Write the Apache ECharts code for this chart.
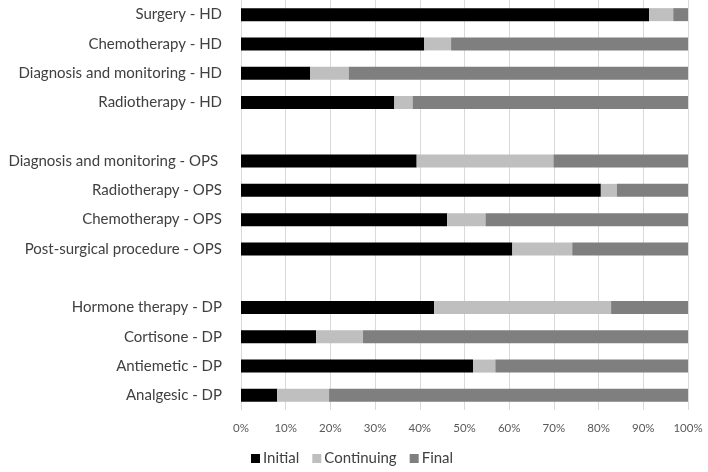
<!DOCTYPE html>
<html>
<head>
<meta charset="utf-8">
<script src="https://cdn.jsdelivr.net/npm/echarts@6/dist/echarts.min.js"></script>
<style>html,body{margin:0;padding:0;background:#fff}#c{width:708px;height:472px}</style>
</head>
<body>
<div id="c"></div>
<script>
var categories = [
  'Surgery - HD', 'Chemotherapy - HD', 'Diagnosis and monitoring - HD', 'Radiotherapy - HD',
  '',
  'Diagnosis and monitoring - OPS ', 'Radiotherapy - OPS', 'Chemotherapy - OPS', 'Post-surgical procedure - OPS',
  ' ',
  'Hormone therapy - DP', 'Cortisone - DP', 'Antiemetic - DP', 'Analgesic - DP'
];
var initialValues    = [91.3, 41.0, 15.5, 34.3, null, 39.3, 80.5, 46.1, 60.7, null, 43.2, 16.8, 51.9, 8.1];
var continuingValues = [5.4, 6.0, 8.6, 4.1, null, 30.6, 3.6, 8.6, 13.4, null, 39.6, 10.5, 5.0, 11.6];
var finalValues      = [3.3, 53.0, 75.9, 61.6, null, 30.1, 15.9, 45.3, 25.9, null, 17.2, 72.7, 43.1, 80.3];
var tickLabels = ['0%', '10%', '20%', '30%', '40%', '50%', '60%', '70%', '80%', '90%', '100%'];

var font = 'Lato, "Open Sans", sans-serif';
var chart = echarts.init(document.getElementById('c'), null, {renderer: 'canvas'});
function s(name, data, color) {
  return {name: name, type: 'bar', stack: 'all', data: data, barWidth: 13,
    itemStyle: {color: color}, emphasis: {disabled: true}};
}
chart.setOption({
  animation: false,
  textStyle: {fontFamily: font},
  grid: {left: 241, right: 20, top: -4, bottom: 62, containLabel: false},
  legend: {
    top: 446, left: 246, itemWidth: 9, itemHeight: 9, itemGap: 13,
    icon: 'rect',
    textStyle: {fontFamily: font, fontSize: 15, color: '#404040', padding: [0, 0, 0, -2]},
    data: ['Initial', 'Continuing', 'Final']
  },
  xAxis: {
    type: 'value', min: 0, max: 100, interval: 10,
    axisLine: {show: false}, axisTick: {show: false},
    splitLine: {show: true, lineStyle: {color: '#d9d9d9', width: 1}},
    axisLabel: {fontFamily: font, fontSize: 11.5, color: '#595959', margin: 12,
      formatter: function (v) { return tickLabels[Math.round(v / 10)]; }}
  },
  yAxis: {
    type: 'category', data: categories, inverse: true,
    axisLine: {show: true, lineStyle: {color: '#d9d9d9'}}, axisTick: {show: false},
    axisLabel: {fontFamily: font, fontSize: 15, color: '#404040', margin: 19}
  },
  series: [
    s('Initial', initialValues, '#000000'),
    s('Continuing', continuingValues, '#bfbfbf'),
    s('Final', finalValues, '#7f7f7f')
  ]
});
</script>
</body>
</html>
